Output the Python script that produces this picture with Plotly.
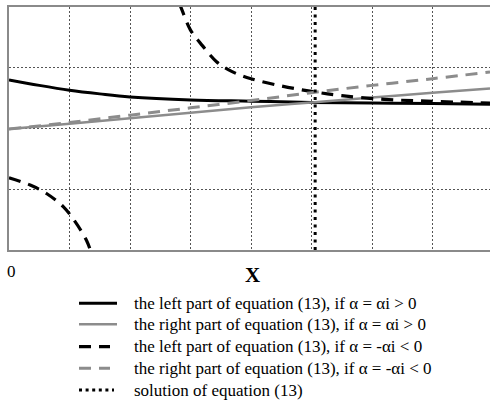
import plotly.graph_objects as go

# Left and right parts of equation (13) plotted against X
x_left_pos = [0, 0.5, 1, 1.5, 2, 3, 4, 5, 6, 7, 7.95]
y_left_pos = [2.80, 2.71, 2.63, 2.57, 2.52, 2.47, 2.45, 2.43, 2.42, 2.41, 2.40]

x_right_pos = [0, 1, 2, 3, 4, 5, 6, 7, 7.95]
y_right_pos = [1.99, 2.08, 2.17, 2.26, 2.35, 2.43, 2.51, 2.59, 2.66]

# left part for negative alpha has two branches (separated by None)
x_left_neg = [0, 0.35, 0.62, 0.90, 1.09, 1.28, 1.36, None,
              2.82, 2.86, 3.0, 3.2, 3.43, 3.68, 4.0, 4.5, 5.0, 5.5, 6.2, 6.9, 7.95]
y_left_neg = [1.19, 1.07, 0.93, 0.71, 0.47, 0.16, -0.05, None,
              4.05, 3.95, 3.62, 3.36, 3.10, 2.94, 2.82, 2.70, 2.61, 2.54, 2.48, 2.45, 2.42]

x_right_neg = [0, 1, 2, 3, 4, 5, 6, 7, 7.95]
y_right_neg = [1.99, 2.10, 2.22, 2.34, 2.46, 2.59, 2.71, 2.82, 2.93]

x_solution = 5.06
y_span = [0, 4]

grid_x = [0, 1, 2, 3, 4, 5, 6, 7, 8]

names = [
    "the left part of equation (13), if α = αi > 0",
    "the right part of equation (13), if α = αi > 0",
    "the left part of equation (13), if α = -αi < 0",
    "the right part of equation (13), if α = -αi < 0",
    "solution of equation (13)",
]

BLACK = "#000000"
GRAY = "#8c8c8c"
SERIF = "Liberation Serif, Times New Roman, serif"

styles = [
    dict(color=BLACK, width=3),
    dict(color=GRAY, width=2.5),
    dict(color=BLACK, width=3.2, dash="12px,8px"),
    dict(color=GRAY, width=3, dash="12px,8px"),
    dict(color=BLACK, width=3, dash="3px,4.5px"),
]

fig = go.Figure()
fig.add_trace(go.Scatter(x=x_left_pos, y=y_left_pos, mode="lines", name=names[0],
                         line=dict(shape="spline", **styles[0])))
fig.add_trace(go.Scatter(x=x_right_pos, y=y_right_pos, mode="lines", name=names[1],
                         line=dict(shape="spline", **styles[1])))
fig.add_trace(go.Scatter(x=x_left_neg, y=y_left_neg, mode="lines", name=names[2],
                         connectgaps=False, line=dict(shape="spline", **styles[2])))
fig.add_trace(go.Scatter(x=x_right_neg, y=y_right_neg, mode="lines", name=names[3],
                         line=dict(shape="spline", **styles[3])))
fig.add_trace(go.Scatter(x=[x_solution, x_solution], y=y_span, mode="lines", name=names[4],
                         line=styles[4]))

# Key below the axes: a short sample line followed by its description
PLOT_L, PLOT_W, PLOT_B, PLOT_H = 9, 481, 250, 243


def px_to_paper_x(px):
    return (px - PLOT_L) / PLOT_W


def px_to_paper_y(py):
    return (PLOT_B - py) / PLOT_H


row_y = [303.3, 324.3, 346.7, 368.3, 390.0]
sample_end = [117, 117, 110, 110, 114]
legend_styles = [
    dict(color=BLACK, width=3),
    dict(color=GRAY, width=2.5),
    dict(color=BLACK, width=3.2, dash="12px,8px"),
    dict(color=GRAY, width=3, dash="12px,8px"),
    dict(color=BLACK, width=3, dash="3px,3.6px"),
]
for name, ry, x_end, st in zip(names, row_y, sample_end, legend_styles):
    yy = px_to_paper_y(ry)
    fig.add_shape(type="line", xref="paper", yref="paper",
                  x0=px_to_paper_x(79), x1=px_to_paper_x(x_end), y0=yy, y1=yy,
                  line=st)
    fig.add_annotation(text=name, xref="paper", yref="paper",
                       x=px_to_paper_x(132), y=yy, xanchor="left", yanchor="middle",
                       showarrow=False, font=dict(family=SERIF, size=17, color=BLACK))

fig.add_annotation(text="<b>X</b>", x=px_to_paper_x(252.5), y=px_to_paper_y(275),
                   xref="paper", yref="paper", showarrow=False,
                   yanchor="middle", xanchor="center",
                   font=dict(family=SERIF, size=21, color=BLACK))
fig.add_annotation(text="0", x=0, y=px_to_paper_y(271), xref="x", yref="paper",
                   xshift=2, showarrow=False, yanchor="middle", xanchor="center",
                   font=dict(family=SERIF, size=17, color=BLACK))

fig.update_layout(
    width=490, height=400,
    margin=dict(l=9, r=0, t=7, b=150),
    paper_bgcolor="white", plot_bgcolor="white",
    font=dict(family=SERIF, color=BLACK),
    showlegend=False,
    xaxis=dict(range=[0, 7.95], tickvals=grid_x, showticklabels=False,
               showgrid=True, gridcolor="#555555", gridwidth=1, griddash="2px,2px",
               zeroline=False, showline=True, linecolor="#8a8a8a", linewidth=1.5,
               mirror=True, ticks=""),
    yaxis=dict(range=[0, 4], dtick=1, showticklabels=False,
               showgrid=True, gridcolor="#555555", gridwidth=1, griddash="2px,2px",
               zeroline=False, showline=True, linecolor="#8a8a8a", linewidth=1.5,
               ticks=""),
)

fig.write_html("out.html")
